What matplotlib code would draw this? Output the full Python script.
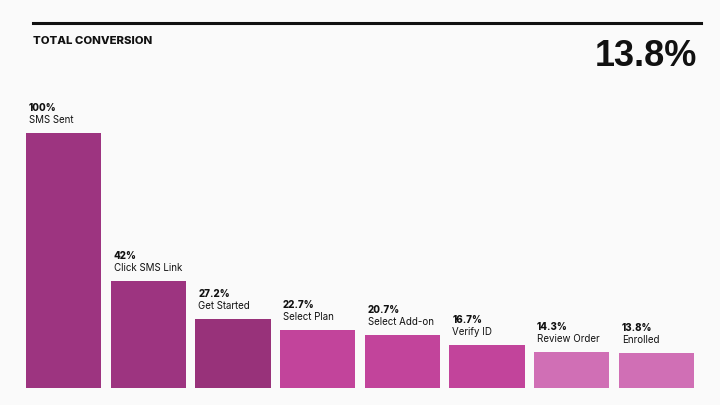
import matplotlib
matplotlib.use("Agg")
import matplotlib.pyplot as plt

steps = ["SMS Sent", "Click SMS Link", "Get Started", "Select Plan",
         "Select Add-on", "Verify ID", "Review Order", "Enrolled"]
values = [100, 42, 27.2, 22.7, 20.7, 16.7, 14.3, 13.8]
pct_labels = ["100%", "42%", "27.2%", "22.7%", "20.7%", "16.7%", "14.3%", "13.8%"]
colors = ["#9d3480", "#9d3480", "#98327a", "#c2449b", "#c2449b", "#c2449b",
          "#d06fb5", "#d06fb5"]
title = "TOTAL CONVERSION"
total = "13.8%"

plt.rcParams['font.family'] = ['Inter', 'DejaVu Sans']
W, H = 720, 405
fig = plt.figure(figsize=(W / 100, H / 100), dpi=100)
fig.patch.set_facecolor("#fafafa")

# header line and texts
fig.add_artist(plt.Line2D([33 / W, 701 / W], [1 - 23 / H, 1 - 23 / H],
                          color="#111111", lw=2.2))
fig.text(33 / W, 1 - 41.5 / H, title, fontsize=8.2, fontweight="heavy",
         va="center", ha="left", color="#111111")
fig.text(697 / W, 1 - 56 / H, total, fontsize=26, fontweight="bold",
         family=["Liberation Sans", "DejaVu Sans"],
         va="center", ha="right", color="#111111")

ax = fig.add_axes([26 / W, 1 - 388 / H, (694 - 26) / W, 255 / H])
ax.set_facecolor("none")
width = 0.89
x = list(range(len(values)))
ax.bar(x, values, width=width, color=colors, align="center")
ax.set_xlim(-width / 2, len(values) - 1 + width / 2)
ax.set_ylim(0, 100)
ax.axis("off")

for i, (v, p, s) in enumerate(zip(values, pct_labels, steps)):
    ax.annotate(p, (i - width / 2, v), xytext=(3, 25), textcoords="offset pixels",
                fontsize=7, fontweight="heavy", ha="left", va="center",
                color="#111111", annotation_clip=False)
    ax.annotate(s, (i - width / 2, v), xytext=(3, 13), textcoords="offset pixels",
                fontsize=7, ha="left", va="center", color="#111111",
                annotation_clip=False)

fig.savefig("out.png", dpi=100, facecolor=fig.get_facecolor())
